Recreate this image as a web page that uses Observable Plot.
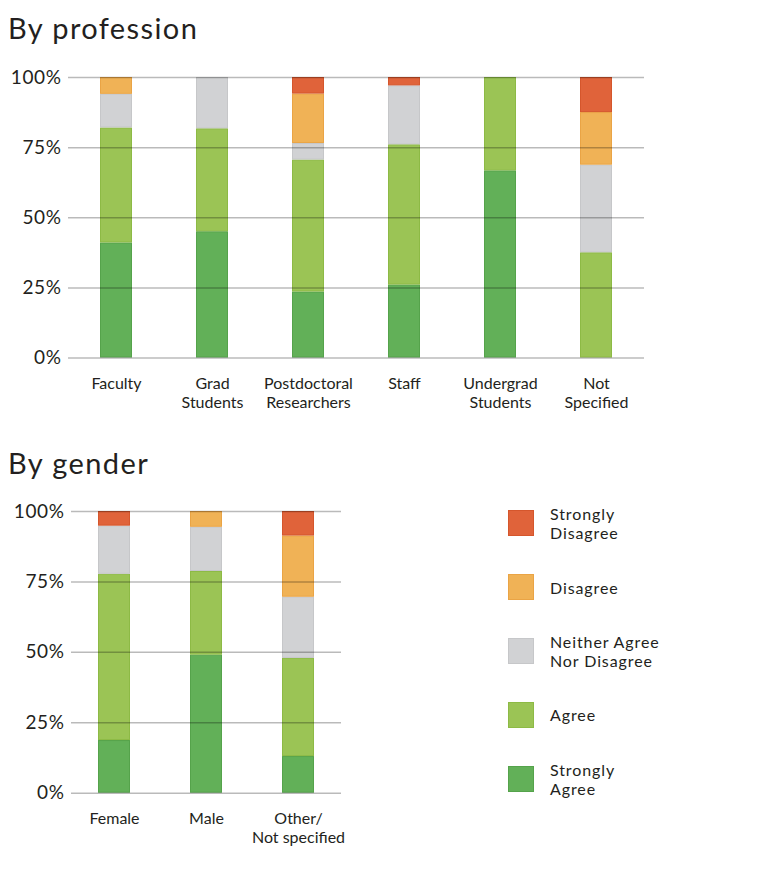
<!DOCTYPE html>
<html>
<head>
<meta charset="utf-8">
<script src="https://cdn.jsdelivr.net/npm/d3@7"></script>
<script src="https://cdn.jsdelivr.net/npm/@observablehq/plot@0.6"></script>
<style>
  html, body { margin: 0; padding: 0; background: #fff; }
  #root { position: relative; width: 780px; height: 884px; font-family: Lato, "Open Sans", sans-serif; color: #231f20; }
  .title { position: absolute; left: 8px; font-size: 29px; font-weight: 400; line-height: 1; letter-spacing: 1.4px; }
  .chart { position: absolute; left: 0; }
  .chart .yax text { letter-spacing: 0.6px; }
  .leg-sw { position: absolute; left: 508px; width: 26px; height: 26px; box-sizing: border-box; }
  .leg-tx { position: absolute; left: 550px; font-size: 16px; line-height: 19px; letter-spacing: 0.9px; color: #231f20; white-space: nowrap; }
</style>
</head>
<body>
<div id="root"></div>
<script>
// ---- data ----
const levels = ["Strongly Agree", "Agree", "Neither Agree Nor Disagree", "Disagree", "Strongly Disagree"];
const levelColors = ["#62b058", "#9bc455", "#d1d2d4", "#f0b256", "#e0633a"];
const levelStrokes = ["#55a34b", "#8dba45", "#c6c7c9", "#eaa445", "#d5562c"];
const legendLabels = ["Strongly\nAgree", "Agree", "Neither Agree\nNor Disagree", "Disagree", "Strongly\nDisagree"];

const professions = ["Faculty", "Grad\nStudents", "Postdoctoral\nResearchers", "Staff", "Undergrad\nStudents", "Not\nSpecified"];
const profStronglyAgree    = [41, 45, 23.5, 26, 66.7, 0];
const profAgree            = [41, 36.7, 47, 50, 33.3, 37.5];
const profNeither          = [12, 18.3, 5.9, 21, 0, 31.25];
const profDisagree         = [6, 0, 17.6, 0, 0, 18.75];
const profStronglyDisagree = [0, 0, 5.9, 3, 0, 12.5];

const genders = ["Female", "Male", "Other/\nNot specified"];
const genStronglyAgree    = [18.7, 49, 13];
const genAgree            = [59, 29.7, 34.8];
const genNeither          = [17.1, 15.7, 21.7];
const genDisagree         = [0, 5.6, 21.7];
const genStronglyDisagree = [5.2, 0, 8.7];

const yTicks = [0, 0.25, 0.5, 0.75, 1];

// ---- build long tables ----
function longTable(groups, series) {
  const rows = [];
  groups.forEach((g, i) => {
    series.forEach((s, j) => rows.push({group: g, level: levels[j], value: s[i]}));
  });
  return rows;
}
const profData = longTable(professions, [profStronglyAgree, profAgree, profNeither, profDisagree, profStronglyDisagree]);
const genData = longTable(genders, [genStronglyAgree, genAgree, genNeither, genDisagree, genStronglyDisagree]);

const FONT = 'Lato, "Open Sans", sans-serif';

function makeChart(data, groups, opts) {
  return Plot.plot({
    width: opts.width,
    height: opts.height,
    marginLeft: opts.marginLeft,
    marginRight: opts.marginRight,
    marginTop: opts.marginTop,
    marginBottom: opts.marginBottom,
    style: {fontFamily: FONT, fontSize: "16px", color: "#231f20", background: "transparent", overflow: "visible"},
    x: {domain: groups, paddingInner: opts.paddingInner, paddingOuter: opts.paddingOuter, label: null},
    y: {domain: [0, 1], label: null},
    color: {domain: levels, range: levelColors},
    marks: [
      Plot.barY(data, Plot.stackY({
        x: "group", y: "value", fill: "level",
        stroke: d => levelStrokes[levels.indexOf(d.level)],
        strokeWidth: 1, inset: 0.5,
        offset: "normalize", order: levels
      })),
      Plot.ruleY(yTicks, {stroke: "#000", strokeOpacity: 0.27, strokeWidth: 1.5}),
      Plot.axisY({ticks: yTicks, tickFormat: d3.format(".0%"), tickSize: 0, tickPadding: 7, fontSize: 19, label: null, className: "yax"}),
      Plot.axisX({tickSize: 0, tickPadding: 17, lineAnchor: "top", lineHeight: 1.2, fontSize: 16, label: null})
    ]
  });
}

const root = document.getElementById("root");

function addTitle(text, top) {
  const d = document.createElement("div");
  d.className = "title";
  d.textContent = text;
  d.style.top = top + "px";
  root.appendChild(d);
}

// Top chart
addTitle("By profession", 13);
const c1 = makeChart(profData, professions, {
  width: 660, height: 380, marginLeft: 68, marginRight: 16, marginTop: 27, marginBottom: 72.5,
  paddingInner: 0.667, paddingOuter: 0.333
});
c1.classList.add("chart");
c1.style.top = "50px";
root.appendChild(c1);

// Bottom chart
addTitle("By gender", 448);
const c2 = makeChart(genData, genders, {
  width: 380, height: 374, marginLeft: 71, marginRight: 39, marginTop: 26, marginBottom: 66.3,
  paddingInner: 0.655, paddingOuter: 0.28
});
c2.classList.add("chart");
c2.style.top = "485px";
root.appendChild(c2);

// Legend (top to bottom: Strongly Disagree ... Strongly Agree)
const legTops = [510, 574, 637.5, 701.5, 765.5];
[4, 3, 2, 1, 0].forEach((li, k) => {
  const sw = document.createElement("div");
  sw.className = "leg-sw";
  sw.style.top = legTops[k] + "px";
  sw.style.background = levelColors[li];
  sw.style.border = "1px solid " + levelStrokes[li];
  root.appendChild(sw);
  const lines = legendLabels[li].split("\n");
  const tx = document.createElement("div");
  tx.className = "leg-tx";
  tx.innerHTML = lines.join("<br>");
  tx.style.top = (legTops[k] + 13 - lines.length * 19 / 2) + "px";
  root.appendChild(tx);
});
</script>
</body>
</html>
